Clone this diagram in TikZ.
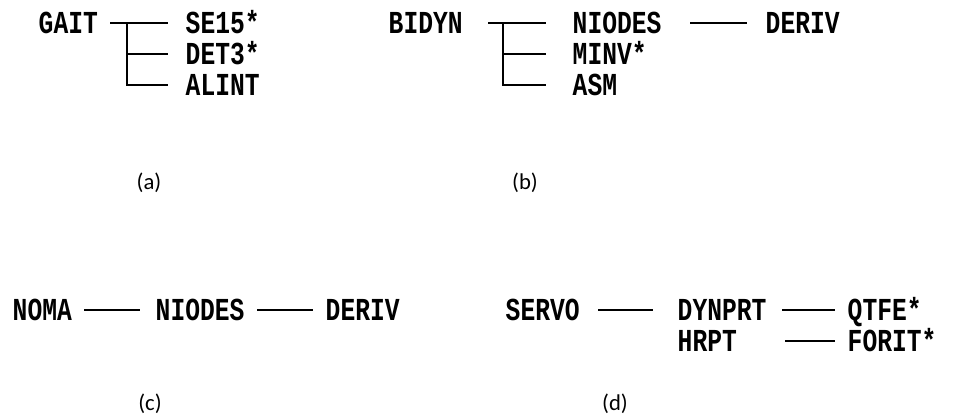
\documentclass[tikz,border=0pt]{standalone}
\usepackage{fontspec}
\newfontfamily\progfont[FakeStretch=0.77]{Liberation Mono}
\newfontfamily\capfont{Carlito}
\usetikzlibrary{calc}
\begin{document}
\begin{tikzpicture}[x=0.75pt,y=-0.75pt,line width=1.1pt,
  routine/.style={anchor=base west,inner sep=0pt,text height=0.58em,text depth=0pt,
    font=\progfont\bfseries\fontsize{24}{24}\selectfont},
  caption/.style={anchor=base,inner sep=0pt,font=\capfont\fontsize{17}{17}\selectfont},
  link/.style={line width=1.1pt}]
\useasboundingbox (0,0) rectangle (955,419);

% (a) GAIT call tree
\node[routine] (gait)  at (38,33)  {GAIT};
\node[routine] (se15)  at (185,33) {SE15*};
\node[routine] (det3)  at (185,64) {DET3*};
\node[routine] (alint) at (185,95) {ALINT};
\coordinate (ja) at (127,23);
\coordinate (det3in) at ($(det3.base west)+(-17,-10)$);
\draw[link] ($(se15.base west)+(-75,-10)$) -- ($(se15.base west)+(-17,-10)$);
\draw[link] (ja) |- ($(alint.base west)+(-17,-10)$);
\draw[link] (ja |- det3in) -- (det3in);
\node[caption] (capa) at (149,189) {(a)};

% (b) BIDYN call tree
\node[routine] (bidyn)  at (388,33) {BIDYN};
\node[routine] (niodb)  at (572,33) {NIODES};
\node[routine] (minv)   at (572,64) {MINV*};
\node[routine] (asm)    at (572,95) {ASM};
\node[routine] (derivb) at (765,33) {DERIV};
\coordinate (jb) at (503,23);
\coordinate (minvin) at ($(minv.base west)+(-26,-10)$);
\draw[link] ($(niodb.base west)+(-84,-10)$) -- ($(niodb.base west)+(-26,-10)$);
\draw[link] (jb) |- ($(asm.base west)+(-26,-10)$);
\draw[link] (jb |- minvin) -- (minvin);
\draw[link] ($(derivb.base west)+(-75,-10)$) -- ($(derivb.base west)+(-18,-10)$);
\node[caption] (capb) at (525,189) {(b)};

% (c) NOMA chain
\node[routine] (noma)   at (12,320)  {NOMA};
\node[routine] (niodc)  at (155,320) {NIODES};
\node[routine] (derivc) at (325,320) {DERIV};
\draw[link] ($(niodc.base west)+(-71,-10)$) -- ($(niodc.base west)+(-15,-10)$);
\draw[link] ($(derivc.base west)+(-68,-10)$) -- ($(derivc.base west)+(-12,-10)$);
\node[caption] (capc) at (150,410) {(c)};

% (d) SERVO tree
\node[routine] (servo)  at (505,320) {SERVO};
\node[routine] (dynprt) at (677,320) {DYNPRT};
\node[routine] (hrpt)   at (677,351) {HRPT};
\node[routine] (qtfe)   at (847,320) {QTFE*};
\node[routine] (forit)  at (847,351) {FORIT*};
\draw[link] ($(dynprt.base west)+(-79,-10)$) -- ($(dynprt.base west)+(-24,-10)$);
\draw[link] ($(qtfe.base west)+(-65,-10)$) -- ($(qtfe.base west)+(-12,-10)$);
\draw[link] ($(forit.base west)+(-62,-10)$) -- ($(forit.base west)+(-12,-10)$);
\node[caption] (capd) at (615,410) {(d)};
\end{tikzpicture}
\end{document}
